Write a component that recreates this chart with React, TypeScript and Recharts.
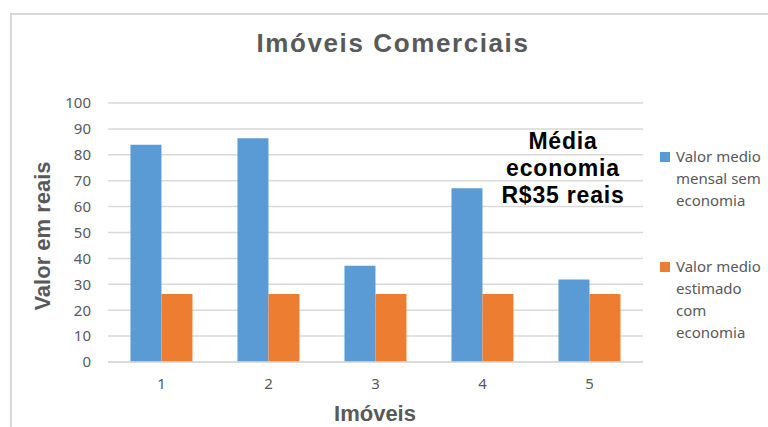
import React from "react";
import {
  Bar,
  BarChart,
  CartesianGrid,
  XAxis,
  YAxis,
} from "recharts";

const imoveis = ["1", "2", "3", "4", "5"];
const semEconomia = [83.9, 86.4, 37.2, 67.1, 31.9];
const comEconomia = [26.3, 26.3, 26.3, 26.3, 26.3];
const yTicks = [0, 10, 20, 30, 40, 50, 60, 70, 80, 90, 100];
const seriesNames = ["Valor medio mensal sem economia", "Valor medio estimado com economia"];
const legendLines = [
  ["Valor medio", "mensal sem", "economia"],
  ["Valor medio", "estimado", "com", "economia"],
];
const colors = ["#5B9BD5", "#ED7D31"];
const notaLines = ["Média", "economia", "R$35 reais"];

const data = imoveis.map((im, i) => ({
  imovel: im,
  sem: semEconomia[i],
  com: comEconomia[i],
}));

const gray = "#595959";
const bodyFont = "'Noto Sans', sans-serif";
const boldFont = "'Liberation Sans', Arial, sans-serif";

// legenda fora do grafico pra nao encolher a area de plotagem
const LegendBox = () => (
  <div
    style={{
      position: "absolute",
      left: 660,
      top: 145,
      width: 130,
      fontFamily: bodyFont,
      fontSize: 15,
      color: gray,
      lineHeight: "22px",
    }}
  >
    {legendLines.map((lines, i) => (
      <div key={seriesNames[i]} style={{ position: "relative", paddingLeft: 16, marginBottom: i === 0 ? 44 : 0 }}>
        <span
          style={{
            position: "absolute",
            left: 0,
            top: 7,
            width: 10,
            height: 10,
            background: colors[i],
          }}
        />
        {lines.map((l) => (
          <div key={l} style={{ whiteSpace: "nowrap" }}>{l}</div>
        ))}
      </div>
    ))}
  </div>
);

export default function App() {
  return (
    <div
      style={{
        position: "absolute",
        left: 0,
        top: 0,
        width: 768,
        height: 427,
        overflow: "hidden",
        background: "#fff",
      }}
    >
      <div
        style={{
          position: "absolute",
          left: 10,
          top: 13,
          width: 800,
          height: 450,
          border: "2px solid #d9d9d9",
        }}
      />
      <div
        style={{
          position: "absolute",
          left: 0,
          top: 28,
          width: 786,
          textAlign: "center",
          fontFamily: boldFont,
          fontWeight: "bold",
          fontSize: 26,
          letterSpacing: 1.6,
          color: gray,
        }}
      >
        Imóveis Comerciais
      </div>
      <BarChart
        width={768}
        height={427}
        data={data}
        margin={{ top: 103, right: 125, bottom: 35, left: 0 }}
        barCategoryGap="21%"
        barGap={0}
        style={{ position: "absolute", left: 0, top: 0 }}
      >
        <CartesianGrid vertical={false} stroke="#d9d9d9" strokeWidth={1.5} />
        <XAxis
          dataKey="imovel"
          height={30}
          tickLine={false}
          tickSize={0}
          tickMargin={16}
          axisLine={{ stroke: "#d9d9d9", strokeWidth: 1.5 }}
          tick={{ fill: gray, fontSize: 15, fontFamily: bodyFont }}
        />
        <YAxis
          width={108}
          domain={[0, 100]}
          ticks={yTicks}
          interval={0}
          axisLine={false}
          tickLine={false}
          tickSize={0}
          tickMargin={17}
          tick={{ fill: gray, fontSize: 15, fontFamily: bodyFont }}
        />
        <Bar dataKey="sem" name={seriesNames[0]} fill={colors[0]} isAnimationActive={false} />
        <Bar dataKey="com" name={seriesNames[1]} fill={colors[1]} isAnimationActive={false} />
      </BarChart>
      <LegendBox />
      <div
        style={{
          position: "absolute",
          left: 43,
          top: 236,
          width: 0,
          height: 0,
        }}
      >
        <div
          style={{
            position: "absolute",
            left: 0,
            top: 0,
            transform: "translate(-50%, -50%) rotate(-90deg)",
            whiteSpace: "nowrap",
            fontFamily: boldFont,
            fontWeight: "bold",
            fontSize: 22,
            color: gray,
          }}
        >
          Valor em reais
        </div>
      </div>
      <div
        style={{
          position: "absolute",
          left: 275,
          top: 401,
          width: 200,
          textAlign: "center",
          fontFamily: boldFont,
          fontWeight: "bold",
          fontSize: 22,
          color: gray,
        }}
      >
        Imóveis
      </div>
      <div
        style={{
          position: "absolute",
          left: 463,
          top: 128,
          width: 200,
          textAlign: "center",
          fontFamily: boldFont,
          fontWeight: "bold",
          fontSize: 23,
          letterSpacing: 0.8,
          lineHeight: "27px",
          color: "#000",
        }}
      >
        {notaLines.map((l) => (
          <div key={l}>{l}</div>
        ))}
      </div>
    </div>
  );
}
